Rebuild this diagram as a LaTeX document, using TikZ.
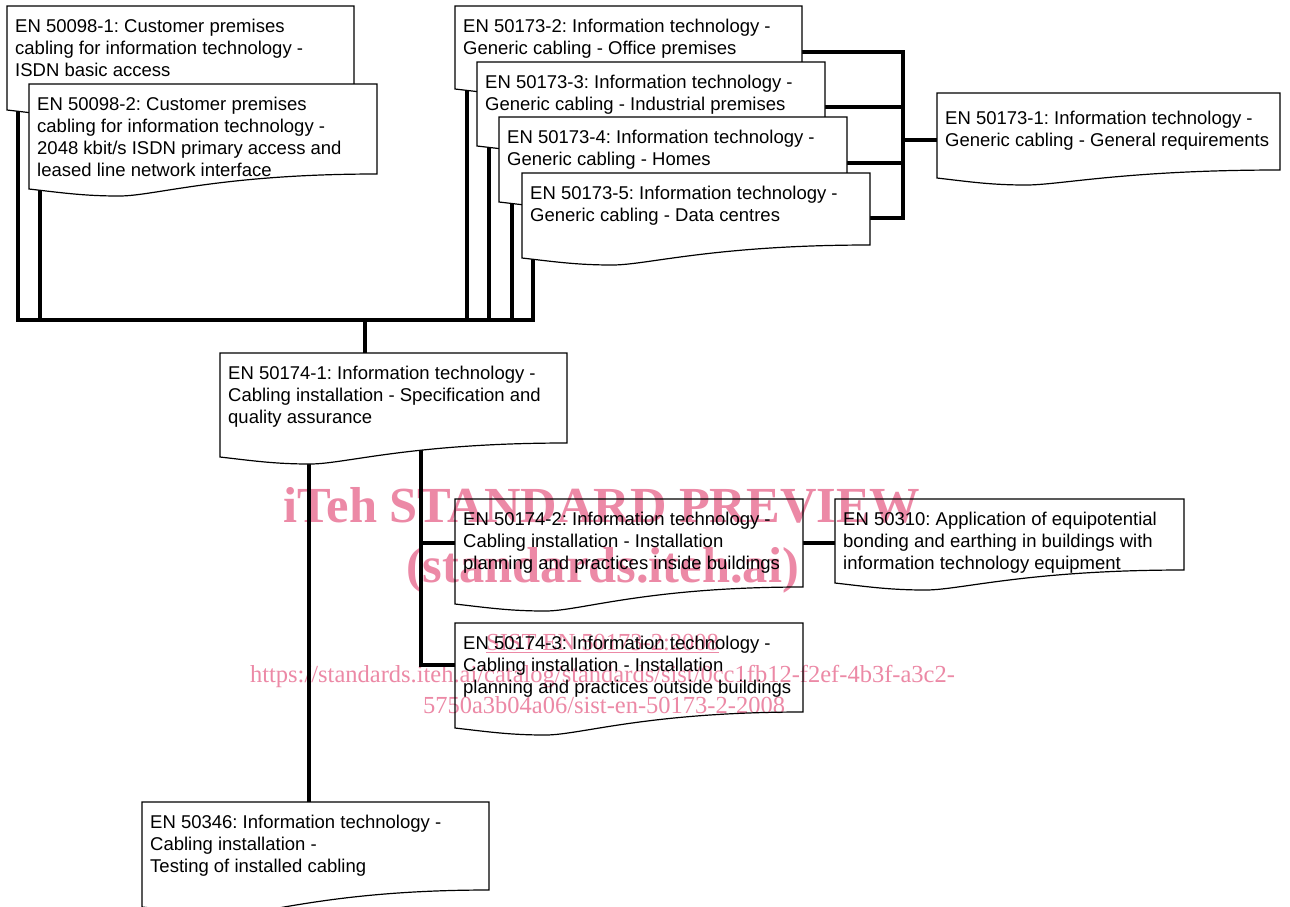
\documentclass[tikz,border=0pt]{standalone}
\usepackage{fontspec}
\setmainfont{Liberation Sans}
\newfontfamily\wmfont{Liberation Serif}
\usetikzlibrary{calc}
\pgfdeclarelayer{bg}
\pgfsetlayers{bg,main}
\definecolor{wmpink}{RGB}{236,137,166}
\frenchspacing
\tikzset{
  docnode/.style={rectangle, anchor=north west, inner xsep=8pt, inner ysep=0pt,
    font=\fontsize{18.5pt}{22pt}\selectfont},
  docline/.style={draw=black, line width=1.2pt, fill=white, line join=miter},
  conn/.style={draw=black, line width=3.2pt},
  wmbig/.style={inner sep=0pt, anchor=base, text=wmpink,
    font=\wmfont\bfseries\fontsize{50.5pt}{50pt}\selectfont},
  wmsmall/.style={inner sep=0pt, anchor=base, text=wmpink,
    font=\wmfont\fontsize{24.5pt}{25pt}\selectfont},
}
% #1 name, #2 left, #3 top, #4 width, #5 right height, #6 left height, #7 text, #8 first baseline
\newcommand\docbox[8]{%
  \path[docline] (#2,#3) -- ({#2+#4},#3) -- ({#2+#4},{#3+#5})
    .. controls +({-0.45*#4},0) and +({0.1*#4},0) .. ({#2+0.26*#4},{#3+#6+7})
    .. controls +({-0.1*#4},0) and +({0.1*#4},4) .. (#2,{#3+#6}) -- cycle;
  \node[docnode, minimum width=#4, minimum height=#5] (#1) at (#2,#3)
    {\parbox[c][#5pt][t]{\dimexpr#4pt-16pt\relax}{\frenchspacing\raggedright\rule{0pt}{#8pt}#7}};
}
\begin{document}
\begin{tikzpicture}[x=1pt, y=-1pt]
\useasboundingbox (0,0) rectangle (1290,906);

\docbox{A}{7}{6}{347}{89}{104}{EN 50098-1: Customer premises\\cabling for information technology -\\ISDN basic access}{26}
\docbox{B}{29}{84}{348}{90}{105}{EN 50098-2: Customer premises\\cabling for information technology -\\2048 kbit/s ISDN primary access and\\leased line network interface}{26}

\docbox{C}{455}{6}{347}{71}{83}{EN 50173-2: Information technology -\\Generic cabling - Office premises}{26}
\docbox{D}{477}{62}{348}{72}{84}{EN 50173-3: Information technology -\\Generic cabling - Industrial premises}{26}
\docbox{E}{499}{117}{348}{72}{85}{EN 50173-4: Information technology -\\Generic cabling - Homes}{26}
\docbox{F}{522}{173}{348}{72}{85}{EN 50173-5: Information technology -\\Generic cabling - Data centres}{26}

\docbox{G}{937}{93}{343}{77}{85}{EN 50173-1: Information technology -\\Generic cabling - General requirements}{31}

\docbox{H}{220}{353}{347}{90}{104}{EN 50174-1: Information technology -\\Cabling installation - Specification and\\quality assurance}{26}

\docbox{I}{455}{499}{348}{88}{105}{EN 50174-2: Information technology -\\Cabling installation - Installation\\planning and practices inside buildings}{26}
\docbox{J}{455}{623}{348}{89}{105}{EN 50174-3: Information technology -\\Cabling installation - Installation\\planning and practices outside buildings}{26}
\docbox{L}{835}{499}{349}{71}{84}{EN 50310: Application of equipotential\\bonding and earthing in buildings with\\information technology equipment}{26}

\docbox{K}{142}{802}{347}{88}{105}{EN 50346: Information technology -\\Cabling installation -\\Testing of installed cabling}{26}

\begin{pgfonlayer}{bg}
  \fill[white] (0,0) rectangle (1290,906);
  \coordinate (topbus) at (365,320);
  \coordinate (rbus) at (903,140);
  \draw[conn] ([xshift=11pt]A.south west) |- (topbus);
  \draw[conn] ([xshift=11pt]B.south west) |- (topbus);
  \draw[conn] ([xshift=12pt]C.south west) |- (topbus);
  \draw[conn] ([xshift=12pt]D.south west) |- (topbus);
  \draw[conn] ([xshift=13pt]E.south west) |- (topbus);
  \draw[conn] ([xshift=11pt]F.south west) |- (topbus);
  \draw[conn] (topbus) -- (topbus |- H.north);
  \draw[conn] ([yshift=-46pt]C.north east) -| (rbus);
  \draw[conn] ([yshift=-45pt]D.north east) -| (rbus);
  \draw[conn] ([yshift=-46pt]E.north east) -| (rbus);
  \draw[conn] ([yshift=-45pt]F.north east) -| (rbus);
  \draw[conn] (rbus) -- (rbus -| G.west);
  \coordinate (hk) at ([xshift=89pt]H.south west);
  \coordinate (hv) at ([xshift=201pt]H.south west);
  \draw[conn] (hk) -- (hk |- K.north);
  \draw[conn] (hv) |- ([yshift=-44pt]I.north west);
  \draw[conn] (hv) |- ([yshift=-42pt]J.north west);
  \draw[conn] ([yshift=-44pt]I.north east) -- ([yshift=-44pt]L.north west);
\end{pgfonlayer}

\begin{scope}[blend mode=multiply]
  \node[wmbig] (wm1) at (602,522) {iTeh STANDARD PREVIEW};
  \node[wmbig] (wm2) at (602.5,582) {(standards.iteh.ai)};
  \node[wmsmall] (wm3) at (602.5,650) {\underline{SIST EN 50173-2:2008}};
  \node[wmsmall] (wm4) at (602.5,682) {https://standards.iteh.ai/catalog/standards/sist/0cc1fb12-f2ef-4b3f-a3c2-};
  \node[wmsmall] (wm5) at (604,713) {5750a3b04a06/sist-en-50173-2-2008};
\end{scope}
\end{tikzpicture}
\end{document}
